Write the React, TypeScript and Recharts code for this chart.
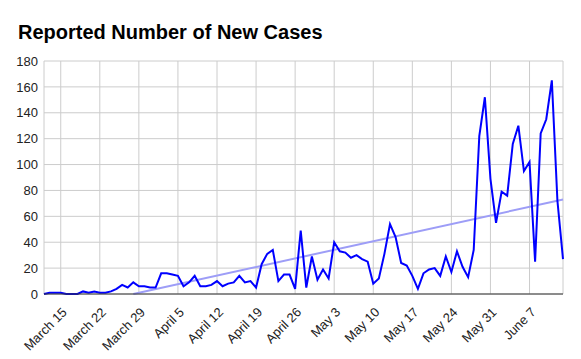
import React from 'react';
import { LineChart, Line, XAxis, YAxis, CartesianGrid } from 'recharts';

const FONT = '"Liberation Sans", Arial, sans-serif';

const dates = [
    'March 12', 'March 13', 'March 14', 'March 15', 'March 16', 'March 17', 'March 18', 'March 19', 'March 20', 'March 21',
    'March 22', 'March 23', 'March 24', 'March 25', 'March 26', 'March 27', 'March 28', 'March 29', 'March 30', 'March 31',
    'April 1', 'April 2', 'April 3', 'April 4', 'April 5', 'April 6', 'April 7', 'April 8', 'April 9', 'April 10',
    'April 11', 'April 12', 'April 13', 'April 14', 'April 15', 'April 16', 'April 17', 'April 18', 'April 19', 'April 20',
    'April 21', 'April 22', 'April 23', 'April 24', 'April 25', 'April 26', 'April 27', 'April 28', 'April 29', 'April 30',
    'May 1', 'May 2', 'May 3', 'May 4', 'May 5', 'May 6', 'May 7', 'May 8', 'May 9', 'May 10',
    'May 11', 'May 12', 'May 13', 'May 14', 'May 15', 'May 16', 'May 17', 'May 18', 'May 19', 'May 20',
    'May 21', 'May 22', 'May 23', 'May 24', 'May 25', 'May 26', 'May 27', 'May 28', 'May 29', 'May 30',
    'May 31', 'June 1', 'June 2', 'June 3', 'June 4', 'June 5', 'June 6', 'June 7', 'June 8', 'June 9',
    'June 10', 'June 11', 'June 12', 'June 13'
];

const newCases = [
    0, 1, 1, 1, 0, 0, 0, 2, 1, 2,
    1, 1, 2, 4, 7, 5, 9, 6, 6, 5,
    5, 16, 16, 15, 14, 6, 9, 14, 6, 6,
    7, 10, 6, 8, 9, 14, 9, 10, 5, 23,
    31, 34, 10, 15, 15, 4, 49, 5, 29, 11,
    19, 12, 40, 33, 32, 28, 30, 27, 25, 8,
    12, 31, 54, 44, 24, 22, 14, 4, 16, 19,
    20, 14, 29, 17, 33, 21, 13, 34, 122, 152,
    89, 55, 79, 76, 116, 130, 95, 102, 25, 124,
    135, 165, 72, 27
];

// linear trend at its two ends
const trendStart = { date: 'March 28', value: 0 };
const trendEnd = { date: 'June 13', value: 73 };

const xTicks = ['March 15', 'March 22', 'March 29', 'April 5', 'April 12', 'April 19', 'April 26',
    'May 3', 'May 10', 'May 17', 'May 24', 'May 31', 'June 7'];
const yTicks = [0, 20, 40, 60, 80, 100, 120, 140, 160, 180];

const data = dates.map((date, i) => ({
    date,
    cases: newCases[i],
    trend: date === trendStart.date ? trendStart.value : date === trendEnd.date ? trendEnd.value : null
}));

const DateTick = ({ x, y, payload }: any) => (
    <text
        x={x + 7}
        y={y + 11}
        transform={`rotate(-45, ${x + 7}, ${y + 11})`}
        textAnchor="end"
        fontSize={13}
        fontFamily={FONT}
        fill="#222"
    >
        {payload.value}
    </text>
);

export default function App() {
    return (
        <div style={{ position: 'absolute', left: 0, top: 0, width: 581, height: 359, background: '#fff' }}>
            <div style={{
                position: 'absolute',
                left: 18,
                top: 21,
                fontFamily: FONT,
                fontWeight: 700,
                fontSize: 20,
                color: '#000',
                lineHeight: '23px'
            }}>
                Reported Number of New Cases
            </div>
            <LineChart
                width={581}
                height={359}
                data={data}
                margin={{ top: 61, right: 18, bottom: 0, left: 0 }}
            >
                <CartesianGrid stroke="#cccccc" strokeWidth={1} />
                <XAxis
                    dataKey="date"
                    ticks={xTicks}
                    interval={0}
                    height={65}
                    tick={<DateTick />}
                    tickLine={false}
                    axisLine={{ stroke: '#333', strokeWidth: 1 }}
                />
                <YAxis
                    width={44}
                    domain={[0, 180]}
                    ticks={yTicks}
                    tickLine={false}
                    axisLine={false}
                    tickSize={4}
                    tick={{ fontSize: 13, fontFamily: FONT, fill: '#222' }}
                />
                <Line
                    dataKey="trend"
                    type="linear"
                    stroke="#9d9df7"
                    strokeWidth={2}
                    dot={false}
                    connectNulls
                    isAnimationActive={false}
                />
                <Line
                    dataKey="cases"
                    type="linear"
                    stroke="#0000ff"
                    strokeWidth={2}
                    dot={false}
                    isAnimationActive={false}
                />
            </LineChart>
        </div>
    );
}
